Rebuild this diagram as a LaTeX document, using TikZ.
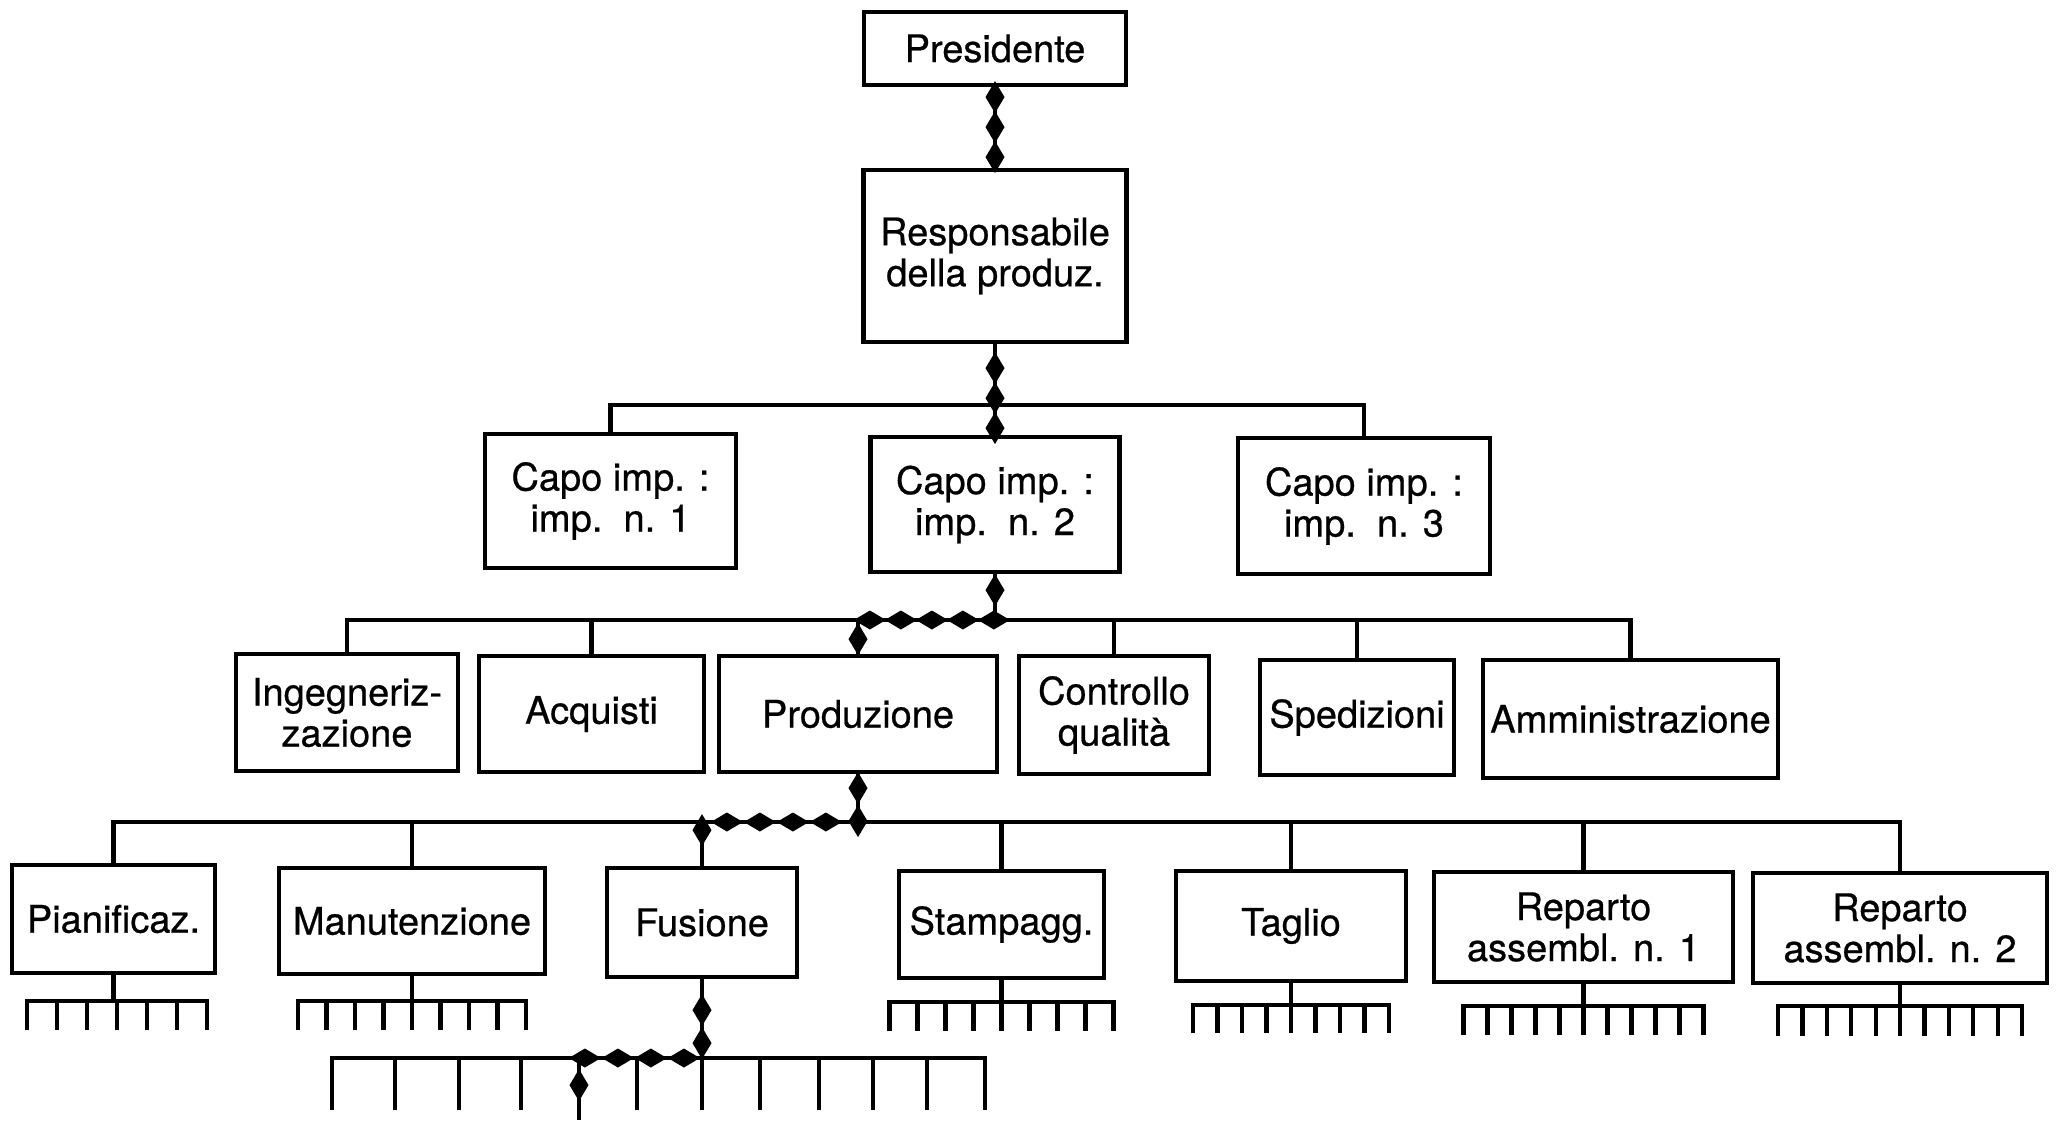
\documentclass[tikz,border=0pt]{standalone}
\usepackage{fontspec}
\setmainfont[FakeBold=0.6]{TeX Gyre Heros}
\usetikzlibrary{decorations.markings}
\newcommand\combrow[5]{%
  \draw[link] (#1,#5) -- (#1,#4) -- (#2,#4) -- (#2,#5);
  \pgfmathtruncatemacro\nnm{#3-2}%
  \foreach \k in {1,...,\nnm} {
    \pgfmathsetmacro\xx{#1+(#2-#1)*\k/(#3-1)}
    \draw[link] (\xx,#4) -- (\xx,#5);
  }}
\begin{document}
\begin{tikzpicture}[x=0.5pt,y=-0.5pt,
  box/.style={draw, line width=2.1pt, inner sep=0pt, align=center,
    font=\fontsize{19pt}{20.5pt}\selectfont},
  link/.style={line width=2.1pt, line join=miter},
  chain/.style n args={3}{line width=2.1pt, line join=miter,
    postaction={decorate, decoration={markings,
      mark=between positions #1 and #3 step #2 with
      {\fill (-8pt,0pt) -- (0pt,4.75pt) -- (8pt,0pt) -- (0pt,-4.75pt) -- cycle;}}}}]
\fill[white] (0,0) rectangle (2056,1120);
\useasboundingbox (0,0) rectangle (2056,1120);

% level 0-1
\node[box, minimum width=131pt, minimum height=36.5pt] (pres) at (995,48.5) {Presidente};
\node[box, minimum width=131.5pt, minimum height=86pt] (resp) at (995,256) {Responsabile\\della produz.};
% level 2
\node[box, minimum width=125.5pt, minimum height=67pt] (c1) at (610.5,501) {Capo imp. :\\imp.~~n. 1};
\node[box, minimum width=124.5pt, minimum height=67.5pt] (c2) at (995,504.5) {Capo imp. :\\imp.~~n. 2};
\node[box, minimum width=126pt, minimum height=68pt] (c3) at (1364,506) {Capo imp. :\\imp.~~n. 3};
% level 3
\node[box, minimum width=111pt, minimum height=58.5pt] (ing) at (347,712.5) {Ingegneriz-\\zazione};
\node[box, minimum width=112.5pt, minimum height=58pt] (acq) at (591.5,714) {Acquisti};
\node[box, minimum width=139pt, minimum height=58pt] (prod) at (858,714) {Produzione};
\node[box, minimum width=95pt, minimum height=59pt] (cq) at (1114,715) {Controllo\\qualità};
\node[box, minimum width=97pt, minimum height=57.5pt] (sped) at (1357,717.5) {Spedizioni};
\node[box, minimum width=147.5pt, minimum height=59pt] (amm) at (1630.5,719) {Amministrazione};
% level 4
\node[box, minimum width=101.5pt, minimum height=54pt] (pian) at (113.5,919) {Pianificaz.};
\node[box, minimum width=133pt, minimum height=53pt] (man) at (412,921) {Manutenzione};
\node[box, minimum width=95pt, minimum height=54.5pt] (fus) at (702,922.5) {Fusione};
\node[box, minimum width=102.5pt, minimum height=53.5pt] (stamp) at (1001.5,924.5) {Stampagg.};
\node[box, minimum width=115pt, minimum height=55pt] (tag) at (1291,926) {Taglio};
\node[box, minimum width=149.5pt, minimum height=55pt] (rep1) at (1583.5,927) {Reparto\\assembl. n. 1};
\node[box, minimum width=147pt, minimum height=55pt] (rep2) at (1900,928) {Reparto\\assembl. n. 2};

\coordinate (b2) at (0,405);
\coordinate (b3) at (0,620);
\coordinate (b4) at (0,822);
\coordinate (b5) at (0,1058);
\coordinate (fend) at (579,1120);

% chains
\draw[chain={5pt}{15pt}{-3pt}] (pres.south) -- (resp.north);
\draw[chain={12pt}{15pt}{-1pt}] (resp.south) -- (c2.north);
\draw[chain={8pt}{15.5pt}{-7pt}] (c2.south) -- (c2.south |- b3) -- (prod.north |- b3) -- (prod.north);
\draw[chain={7pt}{16.5pt}{-8pt}] (prod.south) -- (prod.south |- b4) -- (fus.north |- b4) -- (fus.north);
\draw[chain={15.5pt}{16.5pt}{-1pt}] (fus.south) -- (fus.south |- b5) -- (fend |- b5) -- (fend);

% level 2 bar
\draw[link] (c1.north) -- (c1.north |- b2) -- (c3.north |- b2) -- (c3.north);
% level 3 bar
\draw[link] (ing.north) -- (ing.north |- b3) -- (amm.north |- b3) -- (amm.north);
\foreach \n in {acq,cq,sped} \draw[link] (\n.north) -- (\n.north |- b3);
% level 4 bar
\draw[link] (pian.north) -- (pian.north |- b4) -- (rep2.north |- b4) -- (rep2.north);
\foreach \n in {man,stamp,tag,rep1} \draw[link] (\n.north) -- (\n.north |- b4);

% combs
\draw[link] (pian.south) -- (pian.south |- 0,1001);
\combrow{27}{207}{7}{1001}{1030}
\draw[link] (man.south) -- (man.south |- 0,1001);
\combrow{298}{526}{9}{1001}{1030}
\draw[link] (stamp.south) -- (stamp.south |- 0,1002);
\combrow{889.5}{1113.5}{9}{1002}{1031}
\draw[link] (tag.south) -- (tag.south |- 0,1005);
\combrow{1193}{1389}{9}{1005}{1033}
\draw[link] (rep1.south) -- (rep1.south |- 0,1006);
\combrow{1463.5}{1703.5}{11}{1006}{1035}
\draw[link] (rep2.south) -- (rep2.south |- 0,1006);
\combrow{1778}{2022}{11}{1006}{1036}

% Fusione comb
\draw[link] (332,1110) -- (332,1058) -- (985,1058) -- (985,1110);
\foreach \x in {395,459,521,637,702,760,819,873,927}
  \draw[link] (\x,1058) -- (\x,1110);
\end{tikzpicture}
\end{document}
